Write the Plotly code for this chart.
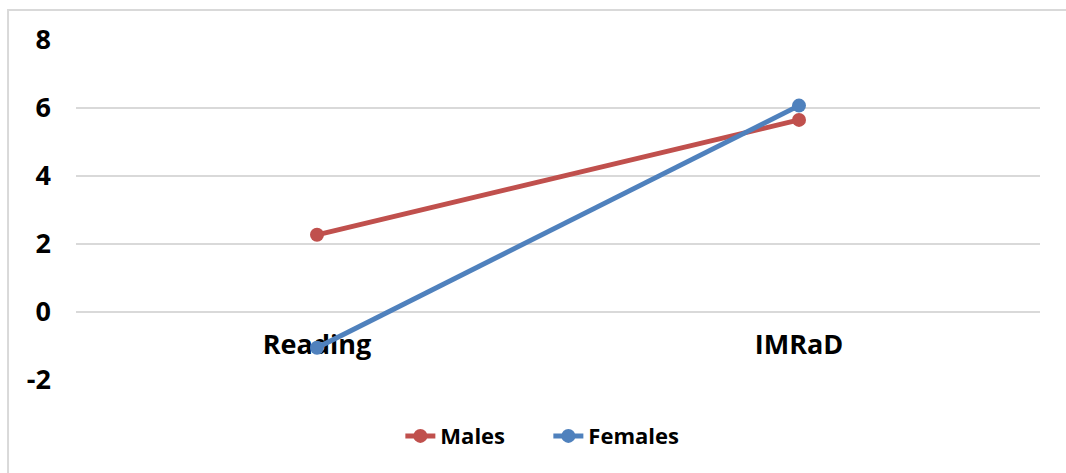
import plotly.graph_objects as go

# Mean change scores by task, split by gender
categories = ["Reading", "IMRaD"]
males = [2.27, 5.65]
females = [-1.05, 6.07]

# Value axis ticks (plain hyphen for negatives)
y_ticks = [-2, 0, 2, 4, 6, 8]
y_tick_labels = ["-2", "0", "2", "4", "6", "8"]

RED = "#C0504D"
BLUE = "#4F81BD"
GRID = "#D9D9D9"
FONT = "Open Sans"

fig = go.Figure()
fig.add_trace(go.Scatter(
    x=categories, y=males, name="Males", mode="lines+markers",
    line=dict(color=RED, width=5), marker=dict(size=14, color=RED),
))
fig.add_trace(go.Scatter(
    x=categories, y=females, name="Females", mode="lines+markers",
    line=dict(color=BLUE, width=5), marker=dict(size=14, color=BLUE),
))

fig.update_layout(
    width=1066, height=473,
    margin=dict(l=76, r=26, t=40, b=93),
    paper_bgcolor="white", plot_bgcolor="white",
    font=dict(family=FONT, color="black"),
    showlegend=True,
    legend=dict(
        orientation="h", x=0.49, xanchor="center", y=-0.165, yanchor="middle",
        font=dict(family=FONT, size=22, color="black", weight="bold"),
        itemwidth=30, entrywidth=103, entrywidthmode="pixels",
        tracegroupgap=0, bgcolor="rgba(0,0,0,0)",
    ),
    xaxis=dict(
        type="category", range=[-0.5, 1.5],
        anchor="free", position=0.2, layer="below traces",
        showgrid=False, showline=False, zeroline=False, ticks="",
        tickfont=dict(family=FONT, size=27, color="black", weight="bold"),
        ticklabelstandoff=14,
    ),
    yaxis=dict(
        range=[-2, 8], tickmode="array", tickvals=y_ticks, ticktext=y_tick_labels,
        showgrid=True, gridcolor=GRID, gridwidth=1.5,
        zeroline=True, zerolinecolor=GRID, zerolinewidth=1.5,
        showline=False, ticks="",
        tickfont=dict(family=FONT, size=27, color="black", weight="bold"),
        ticklabelstandoff=24,
    ),
    shapes=[dict(
        type="rect", xref="paper", yref="paper",
        x0=-0.0705, x1=1.2, y0=-0.5, y1=1.088,
        line=dict(color=GRID, width=2), fillcolor="rgba(0,0,0,0)", layer="below",
    )],
)

fig.write_html("out.html")
